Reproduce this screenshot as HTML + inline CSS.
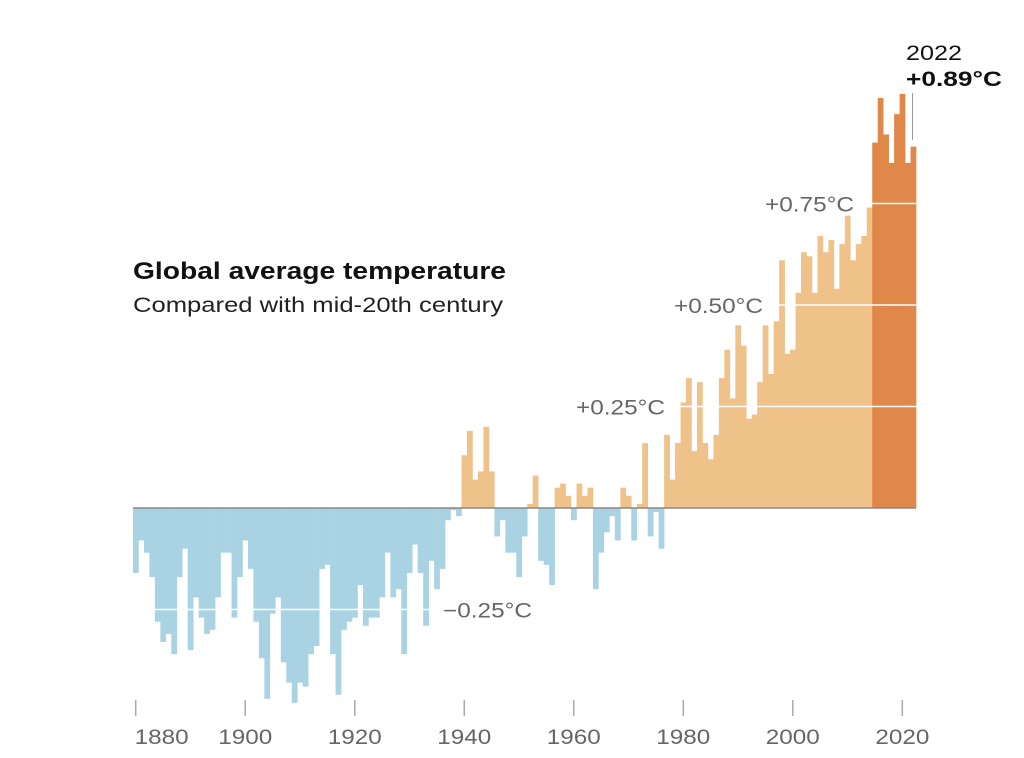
<!DOCTYPE html>
<html><head><meta charset="utf-8"><style>
body{margin:0;background:#fff;}
svg{display:block;font-family:"Liberation Sans",sans-serif;}
</style></head><body>
<svg id="chart" width="1024" height="758" viewBox="0 0 1024 758" xmlns="http://www.w3.org/2000/svg">
<g id="bars"></g>
<g id="grid"></g>
<line x1="133" x2="916" y1="508" y2="508" stroke="#888" stroke-width="1.5"/>
<g id="axis"></g>
<text x="133" y="279" font-size="24" font-weight="bold" fill="#111" textLength="373" lengthAdjust="spacingAndGlyphs">Global average temperature</text>
<text x="133" y="312" font-size="21" fill="#222" textLength="370" lengthAdjust="spacingAndGlyphs">Compared with mid-20th century</text>
<text x="906" y="60" font-size="21" fill="#111" textLength="56" lengthAdjust="spacingAndGlyphs">2022</text>
<text x="906" y="86" font-size="21" font-weight="bold" fill="#111" textLength="96" lengthAdjust="spacingAndGlyphs">+0.89°C</text>
<line x1="912.5" x2="912.5" y1="93" y2="140" stroke="#999" stroke-width="1"/>
</svg>
<script>
const startYear = 1880;
const anomalies = [
-0.16,-0.08,-0.11,-0.17,-0.28,-0.33,-0.31,-0.36,-0.17,-0.10,
-0.35,-0.22,-0.27,-0.31,-0.30,-0.22,-0.11,-0.11,-0.27,-0.17,
-0.08,-0.15,-0.28,-0.37,-0.47,-0.26,-0.22,-0.38,-0.43,-0.48,
-0.43,-0.44,-0.36,-0.34,-0.15,-0.14,-0.36,-0.46,-0.30,-0.28,
-0.27,-0.19,-0.29,-0.27,-0.27,-0.22,-0.11,-0.22,-0.20,-0.36,
-0.16,-0.09,-0.16,-0.29,-0.13,-0.20,-0.15,-0.03,-0.005,-0.02,
0.13,0.19,0.07,0.09,0.20,0.09,-0.07,-0.03,-0.11,-0.11,
-0.17,-0.07,0.01,0.08,-0.13,-0.14,-0.19,0.05,0.06,0.03,
-0.03,0.06,0.03,0.05,-0.20,-0.11,-0.06,-0.02,-0.08,0.05,
0.03,-0.08,0.01,0.16,-0.07,-0.01,-0.10,0.18,0.07,0.16,
0.26,0.32,0.14,0.31,0.16,0.12,0.18,0.32,0.39,0.27,
0.45,0.40,0.22,0.23,0.31,0.45,0.33,0.46,0.61,0.38,
0.39,0.53,0.63,0.62,0.53,0.67,0.63,0.66,0.54,0.65,
0.72,0.61,0.65,0.67,0.74,0.90,1.01,0.92,0.85,0.97,
1.02,0.85,0.89
];
const tickYears = [1880,1900,1920,1940,1960,1980,2000,2020];
const gridValues = [-0.25,0.25,0.50,0.75];
const gridLabels = ["\u22120.25°C","+0.25°C","+0.50°C","+0.75°C"];
const recentStart = 2015;

const NS="http://www.w3.org/2000/svg";
const bw=5.476, x0=135.7, y0=508, k=406;
const xs=y=>x0+(y-startYear)*bw;
const ys=v=>y0-v*k;
function mk(t,a){const e=document.createElementNS(NS,t);for(const n in a)e.setAttribute(n,a[n]);return e;}

const bars=document.getElementById('bars');
anomalies.forEach((v,i)=>{
  const yr=startYear+i;
  const col=v<0?'#a9d3e2':(yr>=recentStart?'#e0884a':'#efc28a');
  const r=mk('rect',{x:(xs(yr)-bw/2).toFixed(2),y:Math.min(ys(v),y0).toFixed(2),width:(bw+0.3).toFixed(2),height:Math.abs(ys(v)-y0).toFixed(2),fill:col});
  
  
  bars.appendChild(r);
});

const grid=document.getElementById('grid');
const lineStarts={"-0.25":133,"0.25":672,"0.5":768,"0.75":860};
const labelEnds={"-0.25":532,"0.25":665,"0.5":763,"0.75":854};
gridValues.forEach((v,i)=>{
  const key=String(v);
  const x1=v<0?133:lineStarts[key];
  const x2=v<0?437:916;
  const l=mk('line',{x1:x1,x2:x2,y1:ys(v),y2:ys(v),stroke:'#fff','stroke-width':1.5});
  
  
  grid.appendChild(l);
  const t=mk('text',{x:labelEnds[key]-89,y:ys(v)+8,'font-size':21,fill:'#666',textLength:89,lengthAdjust:'spacingAndGlyphs'});
  t.textContent=gridLabels[i];
  
  
  grid.appendChild(t);
});

const axis=document.getElementById('axis');
tickYears.forEach((yr,i)=>{
  const x=xs(yr);
  const tk=mk('line',{x1:x,x2:x,y1:700,y2:716,stroke:'#aaa','stroke-width':1.5});
  
  
  axis.appendChild(tk);
  const t=mk('text',{x:i===0?x-1:x-27,y:744,'font-size':21,fill:'#666',textLength:54,lengthAdjust:'spacingAndGlyphs'});
  t.textContent=yr;
  
  
  axis.appendChild(t);
});
</script>
</body></html>
